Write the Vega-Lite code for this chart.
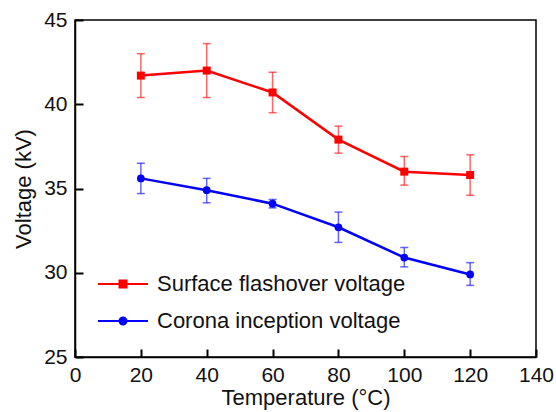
{
  "$schema": "https://vega.github.io/schema/vega-lite/v6.json",
  "width": 461,
  "height": 337,
  "autosize": "none",
  "padding": {"left": 75, "top": 20, "right": 20, "bottom": 55},
  "config": {
    "font": "Liberation Sans",
    "view": {"stroke": "#000000", "strokeWidth": 1.5},
    "axis": {
      "grid": false,
      "domainColor": "#000000",
      "domainWidth": 1.5,
      "tickColor": "#000000",
      "tickWidth": 2,
      "tickSize": -8,
      "tickOpacity": 1,
      "ticks": true,
      "zindex": 1,
      "labelFont": "Liberation Sans",
      "labelFontSize": 21,
      "labelColor": "#111111",
      "titleFont": "Liberation Sans",
      "titleFontSize": 22,
      "titleFontWeight": "normal",
      "titleColor": "#111111"
    }
  },
  "data": {
    "values": [
      {"series": "Surface flashover voltage", "temp": 20, "v": 41.7, "lo": 40.4, "hi": 43.0},
      {"series": "Surface flashover voltage", "temp": 40, "v": 42.0, "lo": 40.4, "hi": 43.6},
      {"series": "Surface flashover voltage", "temp": 60, "v": 40.7, "lo": 39.5, "hi": 41.9},
      {"series": "Surface flashover voltage", "temp": 80, "v": 37.9, "lo": 37.1, "hi": 38.7},
      {"series": "Surface flashover voltage", "temp": 100, "v": 36.0, "lo": 35.2, "hi": 36.9},
      {"series": "Surface flashover voltage", "temp": 120, "v": 35.8, "lo": 34.6, "hi": 37.0},
      {"series": "Corona inception voltage", "temp": 20, "v": 35.6, "lo": 34.7, "hi": 36.5},
      {"series": "Corona inception voltage", "temp": 40, "v": 34.9, "lo": 34.15, "hi": 35.6},
      {"series": "Corona inception voltage", "temp": 60, "v": 34.1, "lo": 33.85, "hi": 34.35},
      {"series": "Corona inception voltage", "temp": 80, "v": 32.7, "lo": 31.8, "hi": 33.6},
      {"series": "Corona inception voltage", "temp": 100, "v": 30.9, "lo": 30.35, "hi": 31.5},
      {"series": "Corona inception voltage", "temp": 120, "v": 29.9, "lo": 29.25, "hi": 30.6}
    ]
  },
  "encoding": {
    "x": {
      "field": "temp", "type": "quantitative",
      "scale": {"domain": [0, 140], "nice": false},
      "axis": {"values": [0, 20, 40, 60, 80, 100, 120, 140], "title": "Temperature (°C)", "labelPadding": 15, "titlePadding": 2, "labelFlush": false}
    },
    "color": {
      "field": "series", "type": "nominal",
      "scale": {"domain": ["Surface flashover voltage", "Corona inception voltage"], "range": ["#ff0000", "#0000ff"]},
      "legend": {
        "title": null,
        "orient": "none",
        "legendX": 22,
        "legendY": 238,
        "padding": 0,
        "symbolSize": 2500,
        "rowPadding": -15,
        "labelOffset": 8,
        "labelFontSize": 22,
        "labelFont": "Liberation Sans",
        "labelColor": "#111111",
        "labelLimit": 400,
        "symbolStrokeWidth": 2,
        "encode": {
          "symbols": {
            "update": {
              "shape": {"signal": "datum.value == 'Surface flashover voltage' ? 'M-1,0H1M-0.14,-0.14H0.14V0.14H-0.14Z' : 'M-1,0H1M-0.14,0A0.14,0.14 0 1,0 0.14,0A0.14,0.14 0 1,0 -0.14,0Z'"},
              "stroke": {"signal": "datum.value == 'Surface flashover voltage' ? '#ff0000' : '#0000ff'"},
              "fill": {"signal": "datum.value == 'Surface flashover voltage' ? '#ff0000' : '#0000ff'"},
              "strokeWidth": {"value": 2},
              "opacity": {"value": 1}
            }
          }
        }
      }
    }
  },
  "layer": [
    {
      "mark": {"type": "errorbar", "ticks": {"size": 8, "opacity": 0.6}, "rule": {"opacity": 0.6}, "thickness": 1.5},
      "encoding": {
        "y": {"field": "lo", "type": "quantitative", "title": "Voltage (kV)"},
        "y2": {"field": "hi"}
      }
    },
    {
      "mark": {"type": "line", "strokeWidth": 2.5},
      "encoding": {
        "y": {
          "field": "v", "type": "quantitative",
          "scale": {"domain": [25, 45], "nice": false, "zero": false},
          "axis": {"values": [25, 30, 35, 40, 45], "title": "Voltage (kV)", "labelPadding": 16, "titlePadding": 8, "labelFlush": false}
        }
      }
    },
    {
      "transform": [{"filter": "datum.series == 'Surface flashover voltage'"}],
      "mark": {"type": "point", "shape": "square", "filled": true, "size": 64, "opacity": 1},
      "encoding": {"y": {"field": "v", "type": "quantitative"}}
    },
    {
      "transform": [{"filter": "datum.series == 'Corona inception voltage'"}],
      "mark": {"type": "point", "shape": "circle", "filled": true, "size": 60, "opacity": 1},
      "encoding": {"y": {"field": "v", "type": "quantitative"}}
    }
  ]
}
